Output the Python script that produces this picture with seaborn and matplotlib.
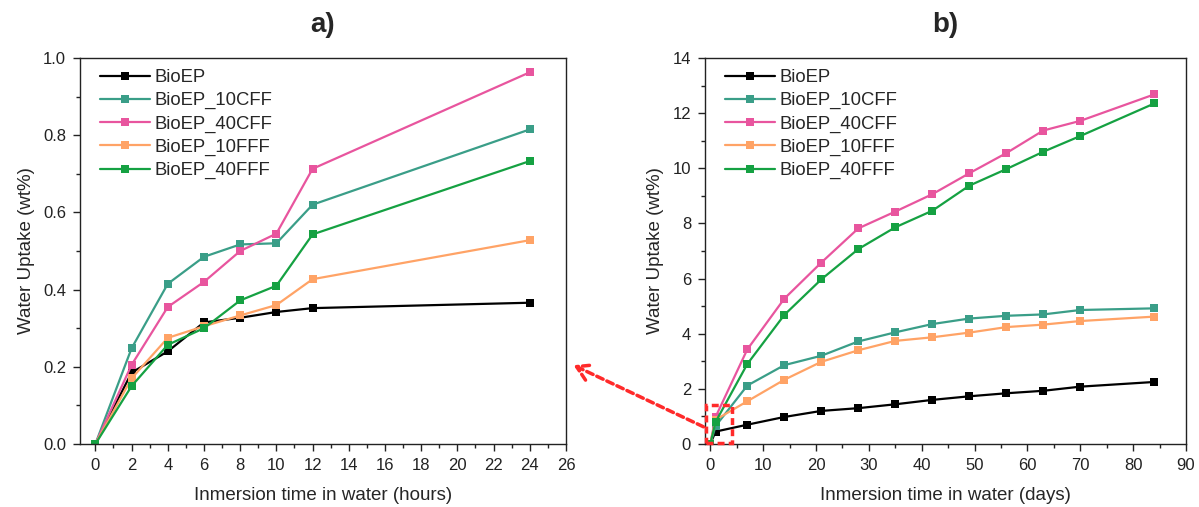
import numpy as np
import pandas as pd
import matplotlib
matplotlib.use("Agg")
import matplotlib.pyplot as plt
import seaborn as sns
from matplotlib.ticker import MultipleLocator
from matplotlib.patches import Rectangle, FancyArrowPatch

# === DATA ===
series = ["BioEP", "BioEP_10CFF", "BioEP_40CFF", "BioEP_10FFF", "BioEP_40FFF"]
colors = ["#000000", "#3a9e88", "#e8559e", "#ffa366", "#15a142"]

# panel a) - hours
hours = [0, 2, 4, 6, 8, 10, 12, 24]
a_bioep = [0, 0.185, 0.240, 0.315, 0.327, 0.342, 0.352, 0.366]
a_10cff = [0, 0.248, 0.415, 0.485, 0.517, 0.520, 0.620, 0.815]
a_40cff = [0, 0.205, 0.355, 0.420, 0.500, 0.545, 0.713, 0.963]
a_10fff = [0, 0.170, 0.275, 0.305, 0.333, 0.360, 0.427, 0.528]
a_40fff = [0, 0.150, 0.257, 0.300, 0.372, 0.410, 0.543, 0.733]

# panel b) - days
days = [0, 1, 7, 14, 21, 28, 35, 42, 49, 56, 63, 70, 84]
b_bioep = [0, 0.45, 0.70, 0.98, 1.20, 1.30, 1.44, 1.60, 1.73, 1.84, 1.93, 2.08, 2.25]
b_10cff = [0, 0.65, 2.12, 2.86, 3.20, 3.72, 4.05, 4.35, 4.55, 4.65, 4.70, 4.86, 4.92]
b_40cff = [0, 0.98, 3.43, 5.27, 6.58, 7.82, 8.43, 9.06, 9.82, 10.55, 11.37, 11.72, 12.68]
b_10fff = [0, 0.88, 1.55, 2.33, 2.98, 3.40, 3.74, 3.87, 4.04, 4.24, 4.33, 4.46, 4.62]
b_40fff = [0, 0.80, 2.90, 4.68, 5.97, 7.07, 7.86, 8.46, 9.37, 9.97, 10.60, 11.17, 12.35]


def long_form(x, ys):
    frames = [pd.DataFrame({"x": x, "y": y, "Sample": name}) for name, y in zip(series, ys)]
    return pd.concat(frames, ignore_index=True)


df_a = long_form(hours, [a_bioep, a_10cff, a_40cff, a_10fff, a_40fff])
df_b = long_form(days, [b_bioep, b_10cff, b_40cff, b_10fff, b_40fff])

# === STYLE ===
sns.set_style("ticks")
plt.rcParams["font.family"] = ["Liberation Sans", "DejaVu Sans"]
palette = dict(zip(series, colors))

fig = plt.figure(figsize=(11.99, 5.07), dpi=100)
ax1 = fig.add_axes([80 / 1199, 1 - 444 / 507, 486 / 1199, 386 / 507])
ax2 = fig.add_axes([705 / 1199, 1 - 444 / 507, 481 / 1199, 386 / 507])

for ax, df in [(ax1, df_a), (ax2, df_b)]:
    sns.lineplot(data=df, x="x", y="y", hue="Sample", palette=palette,
                 marker="s", markersize=6, markeredgewidth=0, linewidth=1.6,
                 ax=ax)
    ax.legend(loc="upper left", bbox_to_anchor=(0.018, 1.0), frameon=False,
              fontsize=13.3, handlelength=2.7, handletextpad=0.25,
              labelspacing=0.33, borderaxespad=0.3, borderpad=0.3)
    for s in ax.spines.values():
        s.set_linewidth(1.0)
        s.set_color("#222222")
    ax.tick_params(which="both", direction="out", labelsize=12,
                   colors="#222222", width=1.0)
    ax.tick_params(which="major", length=5, pad=5)
    ax.tick_params(which="minor", length=3)
    ax.set_ylabel("Water Uptake (wt%)", fontsize=13.5, labelpad=6)

# panel a axes
ax1.set_xlim(-0.85, 26)
ax1.set_ylim(0, 1.0)
ax1.xaxis.set_major_locator(MultipleLocator(2))
ax1.xaxis.set_minor_locator(MultipleLocator(1))
ax1.yaxis.set_major_locator(MultipleLocator(0.2))
ax1.yaxis.set_minor_locator(MultipleLocator(0.1))
ax1.yaxis.set_major_formatter(matplotlib.ticker.FormatStrFormatter("%.1f"))
ax1.set_xlabel("Inmersion time in water (hours)", fontsize=13.5, labelpad=10)
ax1.set_title("a)", fontsize=20, fontweight="bold", pad=19)

# panel b axes
ax2.set_xlim(-1, 90)
ax2.set_ylim(0, 14)
ax2.xaxis.set_major_locator(MultipleLocator(10))
ax2.xaxis.set_minor_locator(MultipleLocator(5))
ax2.yaxis.set_major_locator(MultipleLocator(2))
ax2.yaxis.set_minor_locator(MultipleLocator(1))
ax2.set_xlabel("Inmersion time in water (days)", fontsize=13.5, labelpad=10)
ax2.set_title("b)", fontsize=20, fontweight="bold", pad=19)

# zoom box and arrow linking the two panels
ax2.add_patch(Rectangle((-0.8, 0.04), 5.0, 1.37, fill=False, edgecolor="#ff2a2a",
                        linestyle=(0, (2, 1.2)), linewidth=2.5, zorder=5,
                        clip_on=False))
arrow = FancyArrowPatch((706 / 1199, 1 - 428 / 507), (571 / 1199, 1 - 364 / 507),
                        transform=fig.transFigure,
                        arrowstyle="->,head_length=10,head_width=6",
                        linestyle=(0, (2, 1.2)), linewidth=2.5, color="#ff2a2a",
                        mutation_scale=1)
fig.add_artist(arrow)

fig.savefig("out.png", dpi=100)
